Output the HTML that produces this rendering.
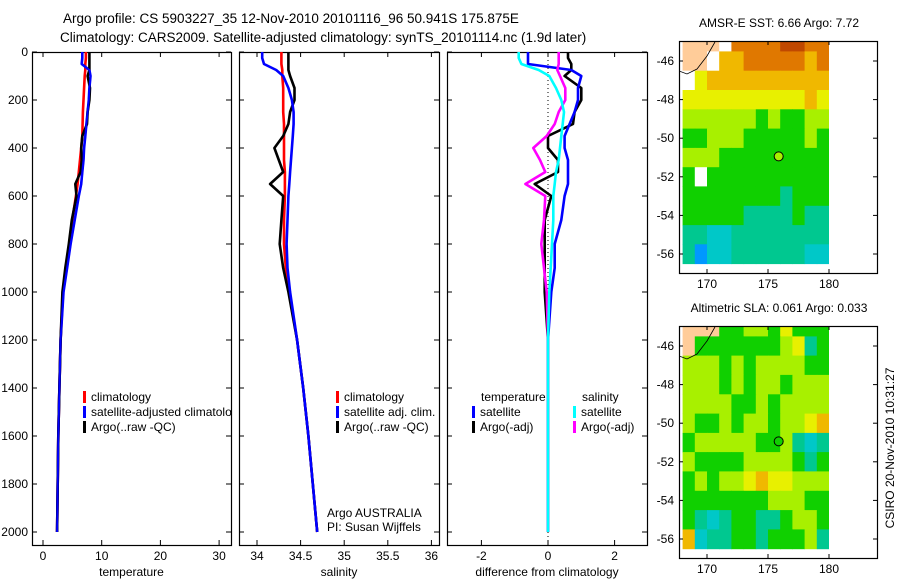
<!DOCTYPE html>
<html><head><meta charset="utf-8">
<style>
html,body{margin:0;padding:0;background:#fff;}
svg{display:block;font-family:"Liberation Sans",sans-serif;}
</style></head>
<body>
<svg id="fig" width="900" height="580" viewBox="0 0 900 580" xmlns="http://www.w3.org/2000/svg">
<text x="63" y="23" font-size="13.5">Argo profile: CS 5903227_35 12-Nov-2010 20101116_96 50.941S 175.875E</text>
<text x="60" y="42" font-size="13.5">Climatology: CARS2009. Satellite-adjusted climatology: synTS_20101114.nc (1.9d later)</text>
<g id="g"></g>
</svg>
<script>
// ---- profile data ----
const depths = [0,25,50,75,100,150,200,250,300,350,400,450,500,550,600,700,800,900,1000,1200,1400,1600,1800,2000];
const tempClim = [7.3,7.3,7.2,7.2,7.1,7.0,6.9,6.8,6.75,6.7,6.5,6.3,6.1,5.9,5.6,5.0,4.5,3.9,3.4,3.0,2.8,2.6,2.5,2.4];
const tempSat  = [6.7,6.7,6.6,7.9,8.1,7.9,7.8,7.6,7.4,7.2,7.0,6.9,6.7,6.5,6.1,5.4,4.7,4.1,3.5,3.0,2.8,2.6,2.5,2.4];
const tempArgo = [7.9,7.9,7.9,7.9,7.6,8.0,7.9,7.6,7.5,6.7,6.5,6.6,6.4,5.5,5.7,4.9,4.4,3.8,3.3,3.0,2.8,2.6,2.5,2.4];
const salClim  = [34.28,34.28,34.28,34.29,34.29,34.30,34.30,34.30,34.31,34.31,34.31,34.31,34.32,34.32,34.32,34.31,34.31,34.33,34.37,34.46,34.53,34.59,34.64,34.69];
const salSat   = [34.06,34.06,34.08,34.22,34.30,34.36,34.40,34.42,34.42,34.41,34.40,34.39,34.38,34.37,34.36,34.35,34.34,34.35,34.38,34.46,34.53,34.59,34.64,34.69];
const salArgo  = [34.36,34.36,34.36,34.36,34.38,34.43,34.43,34.38,34.36,34.30,34.20,34.25,34.30,34.15,34.30,34.28,34.26,34.30,34.36,34.46,34.53,34.59,34.64,34.69];
const depthTicks = [0,200,400,600,800,1000,1200,1400,1600,1800,2000];
const tempTicks = [0,10,20,30];
const salTicks = [34,34.5,35,35.5,36];
const salTickLabels = ["34","34.5","35","35.5","36"];
const diffTicks = [-2,0,2];
// ---- map data (digit = colour index 0..9, L = land, W = no data) rows lat -45..-56, cols lon 168..179 ----
const lonTicks = [170,175,180];
const latTicks = [-46,-48,-50,-52,-54,-56];
const sstGrid = ["LLLW88889988","LLW778888878","W67777777777","666666666676","555555454455","445554444454","555444444444","4W4444444444","444444443444","444443333433","332233333333","312233333322"];
const slaGrid = ["LLL445546444","L44444445634","555454555544","555454554555","555544545555","544545545567","455555445323","544445555434","454556766555","444444455544","432344334554","723344344453"];

const NS="http://www.w3.org/2000/svg";
const G=document.getElementById('g');
function el(tag,attrs,parent){const e=document.createElementNS(NS,tag);for(const k in attrs)e.setAttribute(k,attrs[k]);(parent||G).appendChild(e);return e;}
function txt(x,y,s,size,anchor,parent){const t=el('text',{x:x,y:y,'font-size':size||12,'text-anchor':anchor||'start'},parent);t.textContent=s;return t;}

const yTop=52, yPerM=0.24;
const yD=d=>yTop+d*yPerM;
const boxBottom=545;

function panel(name,left,right,xfun,ticks,labels,title){
  const g=el('g',{});
  
  
  const cp=el('clipPath',{id:'cp-'+name},g);
  el('rect',{x:left,y:yTop,width:right-left,height:boxBottom-yTop},cp);
  const box=el('rect',{x:left+0.5,y:yTop+0.5,width:right-left,height:boxBottom-yTop,fill:'none',stroke:'#000','stroke-width':1.2},g);
  
  
  ticks.forEach((v,i)=>{
    const x=xfun(v);
    el('line',{x1:x,x2:x,y1:yTop,y2:yTop+5,stroke:'#000'},g);
    el('line',{x1:x,x2:x,y1:boxBottom,y2:boxBottom-5,stroke:'#000'},g);
    const t=txt(x,560,labels[i],12,'middle',g);
    
    
  });
  depthTicks.forEach(d=>{
    el('line',{x1:left,x2:left+5,y1:yD(d),y2:yD(d),stroke:'#000'},g);
    el('line',{x1:right,x2:right-5,y1:yD(d),y2:yD(d),stroke:'#000'},g);
  });
  const t=txt((left+right)/2,576,title,12,'middle',g);
  
  
  return g;
}
function profile(g,name,vals,xfun,color,clip,w){
  const pts=vals.map((v,i)=>xfun(v).toFixed(1)+','+yD(depths[i]).toFixed(1)).join(' ');
  const p=el('polyline',{points:pts,fill:'none',stroke:color,'stroke-width':w||2.6,'clip-path':'url(#cp-'+clip+')','stroke-linejoin':'round'},g);
  
  
}
function legend(g,x,y,color,label,clip){
  el('rect',{x:x-1,y:y-10,width:3,height:12,fill:color},g);
  const t=txt(x+7,y,label,12,'start',g);
  if(clip)t.setAttribute('clip-path','url(#cp-'+clip+')');
  
  
}

depthTicks.forEach(d=>{
  const t=txt(28,yD(d)+4,String(d),12,'end');
  
  
});

const xT=v=>43+5.87*v;
const g1=panel('temperature',32,231,xT,tempTicks,tempTicks.map(String),'temperature');
profile(g1,'temp-climatology-line',tempClim,xT,'#f00','temperature');
profile(g1,'temp-satellite-line',tempSat,xT,'#00f','temperature');
profile(g1,'temp-argo-line',tempArgo,xT,'#000','temperature');
profile(g1,'temp-satellite-line-top',tempSat,xT,'#00f','temperature',2);
legend(g1,84,401,'#f00','climatology');
legend(g1,84,416,'#00f','satellite-adjusted climatology','temperature');
legend(g1,84,431,'#000','Argo(..raw -QC)');

const xS=v=>257+87.2*(v-34);
const g2=panel('salinity',239,439,xS,salTicks,salTickLabels,'salinity');
profile(g2,'sal-climatology-line',salClim,xS,'#f00','salinity');
profile(g2,'sal-argo-line',salArgo,xS,'#000','salinity');
profile(g2,'sal-satellite-line',salSat,xS,'#00f','salinity');
legend(g2,337,401,'#f00','climatology');
legend(g2,337,416,'#00f','satellite adj. clim.');
legend(g2,337,431,'#000','Argo(..raw -QC)');
let t=txt(327,517,'Argo AUSTRALIA',12,'start',g2);


t=txt(327,531,'PI: Susan Wijffels',12,'start',g2);



const xDf=v=>548+33.3*v;
const g3=panel('difference',447,647,xDf,diffTicks,diffTicks.map(String),'difference from climatology');
el('line',{x1:xDf(0),x2:xDf(0),y1:yTop,y2:boxBottom,stroke:'#000','stroke-dasharray':'1,3'},g3);
const dTs=tempSat.map((v,i)=>v-tempClim[i]);
const dTa=tempArgo.map((v,i)=>v-tempClim[i]);
const dSs=salSat.map((v,i)=>(v-salClim[i])*4);
const dSa=salArgo.map((v,i)=>(v-salClim[i])*4);
profile(g3,'diff-temp-argo-line',dTa,xDf,'#000','difference');
profile(g3,'diff-temp-satellite-line',dTs,xDf,'#00f','difference');
profile(g3,'diff-sal-argo-line',dSa,xDf,'#f0f','difference');
profile(g3,'diff-sal-satellite-line',dSs,xDf,'#0ff','difference');
t=txt(481,401,'temperature',12,'start',g3);


t=txt(582,401,'salinity',12,'start',g3);


legend(g3,473,416,'#00f','satellite');
legend(g3,473,431,'#000','Argo(-adj)');
legend(g3,574,416,'#0ff','satellite');
legend(g3,574,431,'#f0f','Argo(-adj)');

// ---- maps ----
const cmap=['#0040d8','#0098ff','#00c8c8','#00c890','#10d000','#a8f000','#e8f000','#f0b800','#e07800','#c04800'];
function drawMap(name,top,grid,title,dotIdx){
  const left=679,right=877,bottom=top+232;
  const xL=lon=>707+12.2*(lon-170);
  const yL=lat=>top+20+19.3*(-46-lat);
  const g=el('g',{});
  
  
  const cid='cp-'+name;
  const cp=el('clipPath',{id:cid},g);
  el('rect',{x:left,y:top,width:xL(180)-left,height:yL(-56.9)-top},cp);
  const cg=el('g',{'clip-path':'url(#'+cid+')'},g);
  grid.forEach((row,r)=>{
    for(let c=0;c<row.length;c++){
      const ch=row[c];
      const lat=-44.5-r, lon=168+c;
      const fill=ch==='L'?'#ffcc99':ch==='W'?'#fff':cmap[+ch];
      const x0=xL(lon);
      const y0=r===0?top:yL(lat);
      const cell=el('rect',{x:x0.toFixed(1),y:y0.toFixed(1),width:(xL(lon+1)-x0+0.5).toFixed(1),height:(yL(lat-1)-y0+0.5).toFixed(1),fill:fill},cg);
      
      
    }
  });
  el('path',{d:'M'+left+','+(top+30)+' L'+(left+8)+','+(top+33)+' L'+(left+18)+','+(top+28)+' L'+(left+28)+','+(top+15)+' L'+(left+36)+','+(top+1),fill:'none',stroke:'#000','stroke-width':0.8},cg);
  const box=el('rect',{x:left+0.5,y:top+0.5,width:right-left,height:bottom-top,fill:'none',stroke:'#000','stroke-width':1.2},g);
  
  
  lonTicks.forEach(l=>{
    const x=xL(l);
    el('line',{x1:x,x2:x,y1:top,y2:top+4,stroke:'#000'},g);
    el('line',{x1:x,x2:x,y1:bottom,y2:bottom-4,stroke:'#000'},g);
    const tt=txt(x,bottom+15,String(l),12,'middle',g);
    
    
  });
  latTicks.forEach(l=>{
    const y=yL(l);
    el('line',{x1:left,x2:left+4,y1:y,y2:y,stroke:'#000'},g);
    el('line',{x1:right,x2:right-4,y1:y,y2:y,stroke:'#000'},g);
    const tt=txt(674,y+4,String(l),12,'end',g);
    
    
  });
  const tt=txt(779,top-14,title,12,'middle',g);
  
  
  const dot=el('circle',{cx:xL(175.875),cy:yL(-50.941),r:4.5,fill:cmap[dotIdx],stroke:'#000','stroke-width':1},g);
  
  
}
drawMap('sst',41,sstGrid,'AMSR-E SST: 6.66 Argo: 7.72',5);
drawMap('sla',326,slaGrid,'Altimetric SLA: 0.061 Argo: 0.033',4);
t=txt(0,0,'CSIRO 20-Nov-2010 10:31:27',12,'middle');
t.setAttribute('transform','translate(894,448) rotate(-90)');


</script>
</body></html>
